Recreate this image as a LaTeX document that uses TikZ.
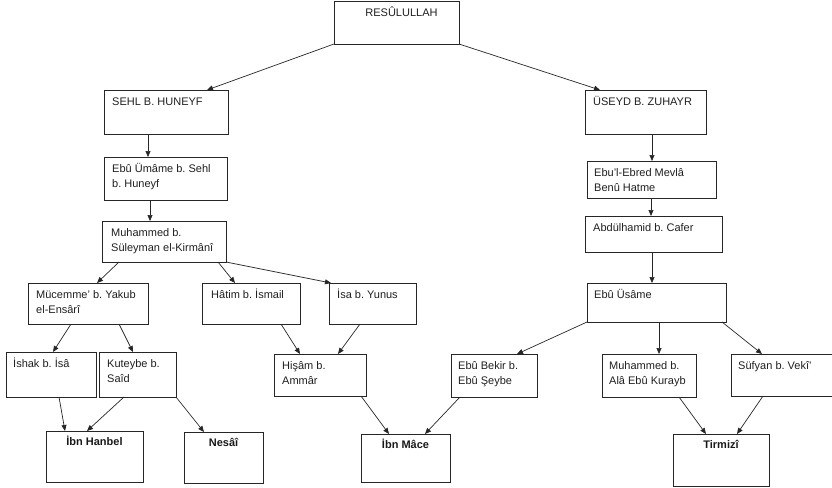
\documentclass[tikz,border=0pt]{standalone}
\usepackage{fontspec}
\setmainfont{Liberation Sans}
\usetikzlibrary{arrows.meta}
\frenchspacing
\begin{document}
\begin{tikzpicture}[x=1pt,y=-1pt,
  box/.style={draw=black!85, line width=0.9pt, inner sep=0pt, outer sep=0pt, anchor=north west},
  txt/.style={anchor=north west, inner sep=0pt, align=left, text=black!88, font=\fontsize{11}{15}\selectfont},
  txtc/.style={anchor=base, inner sep=0pt, text=black!88, font=\fontsize{11}{15}\selectfont},
  txtb/.style={anchor=base, inner sep=0pt, text=black!90, font=\fontsize{11}{15}\selectfont\bfseries},
  arr/.style={draw=black!85, line width=0.7pt, -{Triangle[length=6pt,width=5pt]}}]
\useasboundingbox (0,0) rectangle (832,487);
\newcommand\bx[5]{\node[box, minimum width={#4-#2}, minimum height={#5-#3}] (#1) at (#2,#3) {};}
% boxes
\bx{resul}{334}{1}{459}{44}
\bx{sehl}{104}{90}{228}{134}
\bx{useyd}{585}{90}{706}{134}
\bx{ebuumame}{104}{157}{227}{200}
\bx{muhkir}{102}{221}{226}{262}
\bx{mucemme}{28}{283}{148}{324}
\bx{hatim}{202}{283}{300}{324}
\bx{isa}{329}{283}{416}{324}
\bx{ishak}{6}{352}{96}{397}
\bx{kuteybe}{99}{352}{176}{397}
\bx{hisam}{274}{354}{366}{396}
\bx{hanbel}{46}{431}{143}{482}
\bx{nesai}{184}{432}{263}{483}
\bx{ibnmace}{361}{434}{450}{482}
\bx{ebured}{587}{161}{716}{198}
\bx{abdulhamid}{585}{216}{722}{252}
\bx{ebuusame}{587}{283}{726}{322}
\bx{ebubekir}{451}{354}{537}{397}
\bx{muhala}{602}{354}{696}{397}
\bx{sufyan}{731}{354}{840}{396}
\bx{tirmizi}{673}{434}{769}{486}
% texts
\node[txtc] (resul-t) at ([xshift=5pt,yshift=-16pt]resul.north) {RESÛLULLAH};
\node[txt] (sehl-t) at ([xshift=8pt,yshift=-4.5pt]sehl.north west) {\strut SEHL B. HUNEYF};
\node[txt] (useyd-t) at ([xshift=8pt,yshift=-4.5pt]useyd.north west) {\strut ÜSEYD B. ZUHAYR};
\node[txt] (ebuumame-t) at ([xshift=8pt,yshift=-4.5pt]ebuumame.north west) {\strut Ebû Ümâme b. Sehl\\b. Huneyf};
\node[txt] (muhkir-t) at ([xshift=9pt,yshift=-4.5pt]muhkir.north west) {\strut Muhammed b.\\Süleyman el-Kirmânî};
\node[txt] (mucemme-t) at ([xshift=8pt,yshift=-4.5pt]mucemme.north west) {\strut Mücemme’ b. Yakub\\el-Ensârî};
\node[txt] (hatim-t) at ([xshift=9pt,yshift=-4.5pt]hatim.north west) {\strut Hâtim b. İsmail};
\node[txt] (isa-t) at ([xshift=8pt,yshift=-4.5pt]isa.north west) {\strut İsa b. Yunus};
\node[txt] (ishak-t) at ([xshift=7pt,yshift=-4.5pt]ishak.north west) {\strut İshak b. İsâ};
\node[txt] (kuteybe-t) at ([xshift=8pt,yshift=-4.5pt]kuteybe.north west) {\strut Kuteybe b.\\Saîd};
\node[txt] (hisam-t) at ([xshift=8pt,yshift=-4.5pt]hisam.north west) {\strut Hişâm b.\\Ammâr};
\node[txt] (ebured-t) at ([xshift=7pt,yshift=-4.5pt]ebured.north west) {\strut Ebu’l-Ebred Mevlâ\\Benû Hatme};
\node[txt] (abdulhamid-t) at ([xshift=8pt,yshift=-4.5pt]abdulhamid.north west) {\strut Abdülhamid b. Cafer};
\node[txt] (ebuusame-t) at ([xshift=7pt,yshift=-4.5pt]ebuusame.north west) {\strut Ebû Üsâme};
\node[txt] (ebubekir-t) at ([xshift=7pt,yshift=-4.5pt]ebubekir.north west) {\strut Ebû Bekir b.\\Ebû Şeybe};
\node[txt] (muhala-t) at ([xshift=7pt,yshift=-4.5pt]muhala.north west) {\strut Muhammed b.\\Alâ Ebû Kurayb};
\node[txt] (sufyan-t) at ([xshift=7pt,yshift=-4.5pt]sufyan.north west) {\strut Süfyan b. Vekî’};
\node[txtb] (hanbel-t) at ([yshift=-14pt]hanbel.north) {İbn Hanbel};
\node[txtb] (nesai-t) at ([yshift=-14pt]nesai.north) {Nesâî};
\node[txtb] (ibnmace-t) at ([yshift=-14pt]ibnmace.north) {İbn Mâce};
\node[txtb] (tirmizi-t) at ([yshift=-14pt]tirmizi.north) {Tirmizî};
% arrows
\draw[arr] (resul.south west) -- ([xshift=103pt]sehl.north west);
\draw[arr] (resul.south east) -- ([xshift=15pt]useyd.north west);
\draw[arr] ([xshift=44pt]sehl.south west) -- ([xshift=44pt]ebuumame.north west);
\draw[arr] ([xshift=46pt]ebuumame.south west) -- ([xshift=48pt]muhkir.north west);
\draw[arr] ([xshift=17pt]muhkir.south west) -- ([xshift=69pt]mucemme.north west);
\draw[arr] ([xshift=116pt]muhkir.south west) -- ([xshift=33pt]hatim.north west);
\draw[arr] (muhkir.south east) -- ([xshift=2pt]isa.north west);
\draw[arr] ([xshift=43pt]mucemme.south west) -- ([xshift=47pt]ishak.north west);
\draw[arr] ([xshift=91pt]mucemme.south west) -- ([xshift=34pt]kuteybe.north west);
\draw[arr] ([xshift=53pt]ishak.south west) -- ([xshift=19pt]hanbel.north west);
\draw[arr] ([xshift=25pt]kuteybe.south west) -- ([xshift=41pt]hanbel.north west);
\draw[arr] (kuteybe.south east) -- ([xshift=20pt]nesai.north west);
\draw[arr] ([xshift=79pt]hatim.south west) -- ([xshift=26pt]hisam.north west);
\draw[arr] ([xshift=31pt]isa.south west) -- ([xshift=64pt]hisam.north west);
\draw[arr] ([xshift=87pt]hisam.south west) -- ([xshift=28pt]ibnmace.north west);
\draw[arr] ([xshift=9pt]ebubekir.south west) -- ([xshift=64pt]ibnmace.north west);
\draw[arr] ([xshift=67pt]useyd.south west) -- ([xshift=65pt]ebured.north west);
\draw[arr] ([xshift=64pt]ebured.south west) -- ([xshift=66pt]abdulhamid.north west);
\draw[arr] ([xshift=67pt]abdulhamid.south west) -- ([xshift=65pt]ebuusame.north west);
\draw[arr] (ebuusame.south west) -- ([xshift=66pt]ebubekir.north west);
\draw[arr] ([xshift=72pt]ebuusame.south west) -- ([xshift=57pt]muhala.north west);
\draw[arr] ([xshift=-4pt]ebuusame.south east) -- ([xshift=31pt]sufyan.north west);
\draw[arr] ([xshift=77pt]muhala.south west) -- ([xshift=33pt]tirmizi.north west);
\draw[arr] ([xshift=32pt]sufyan.south west) -- ([xshift=64pt]tirmizi.north west);
\end{tikzpicture}
\end{document}
